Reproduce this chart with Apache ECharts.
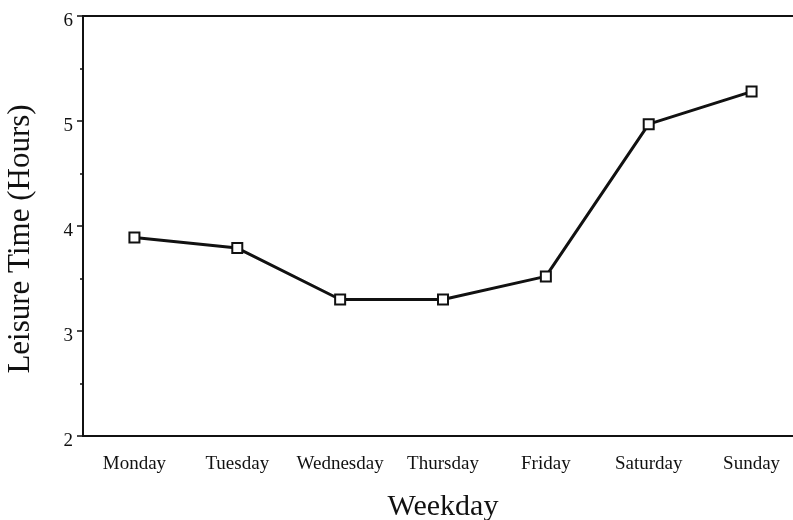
<!DOCTYPE html>
<html>
<head>
<meta charset="utf-8">
<script src="https://cdn.jsdelivr.net/npm/echarts@6/dist/echarts.min.js"></script>
<style>
  html, body { margin: 0; padding: 0; background: #fff; }
  #main { width: 793px; height: 520px; }
</style>
</head>
<body>
<div id="main"></div>
<script>
// data
var weekdays = ['Monday', 'Tuesday', 'Wednesday', 'Thursday', 'Friday', 'Saturday', 'Sunday'];
var leisureHours = [3.89, 3.79, 3.30, 3.30, 3.52, 4.97, 5.28];
var yTicks = [2, 3, 4, 5, 6];

var chart = echarts.init(document.getElementById('main'));
var font = '"Liberation Serif", "DejaVu Serif", serif';
var ink = '#111';

var option = {
  backgroundColor: '#fff',
  animation: false,
  grid: {
    left: 83, top: 16, width: 720, height: 420,
    outerBoundsMode: 'none',
    containLabel: false,
    show: true, borderColor: ink, borderWidth: 2, backgroundColor: 'transparent'
  },
  xAxis: {
    type: 'category',
    data: weekdays,
    name: 'Weekday',
    nameLocation: 'middle',
    nameGap: 56,
    nameTextStyle: { fontFamily: font, fontSize: 30, color: ink },
    axisLine: { lineStyle: { color: ink, width: 2 } },
    axisTick: { alignWithLabel: true, length: 5, lineStyle: { color: ink, width: 1.5 } },
    axisLabel: { interval: 0, fontFamily: font, fontSize: 19, color: ink, margin: 19 },
    splitLine: { show: false }
  },
  yAxis: {
    type: 'value',
    min: yTicks[0],
    max: yTicks[yTicks.length - 1],
    interval: 1,
    name: 'Leisure Time (Hours)',
    nameLocation: 'middle',
    nameGap: 47,
    nameTextStyle: { fontFamily: font, fontSize: 31, color: ink, padding: [0, 26, 0, 0] },
    axisLine: { show: true, lineStyle: { color: ink, width: 2 } },
    axisTick: { show: true, length: 6, lineStyle: { color: ink, width: 1.5 } },
    minorTick: { show: true, splitNumber: 2, length: 3, lineStyle: { color: ink, width: 1.5 } },
    axisLabel: {
      margin: 10,
      formatter: '{n|{value}}',
      rich: { n: { fontFamily: font, fontSize: 19, color: ink, padding: [10, 0, 0, 0] } }
    },
    splitLine: { show: false }
  },
  series: [{
    type: 'line',
    data: leisureHours,
    symbol: 'rect',
    symbolSize: 10,
    showAllSymbol: true,
    lineStyle: { color: ink, width: 3 },
    itemStyle: { color: '#fff', borderColor: ink, borderWidth: 2 },
    z: 3
  }]
};

chart.setOption(option);
</script>
</body>
</html>
